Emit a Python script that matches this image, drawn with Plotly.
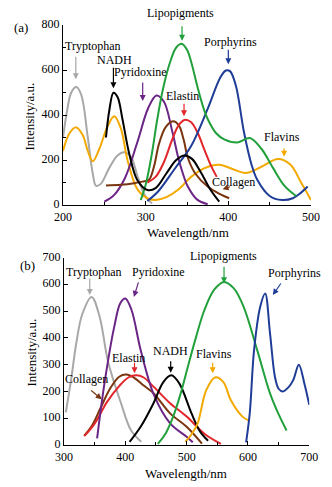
import plotly.graph_objects as go

# ---------------- Panel (a) data ----------------
trp_a_x = [200, 205, 210, 216, 222, 230, 236, 240, 246, 256, 266, 274, 282, 290, 298, 305, 308]
trp_a_y = [300, 420, 500, 524, 490, 300, 140, 85, 95, 165, 220, 234, 215, 130, 50, 15, 8]

fla_a_x = [200, 208, 216, 224, 230, 236, 244, 254, 262, 270, 278, 290, 302, 312, 325, 340, 355, 372, 389, 405, 421, 440, 460, 475, 488, 500]
fla_a_y = [240, 320, 345, 310, 240, 195, 250, 350, 394, 340, 200, 70, 30, 22, 35, 70, 125, 165, 179, 160, 142, 170, 205, 180, 100, 22]

nad_a_x = [252, 256, 261, 266, 272, 280, 290, 302, 312, 325, 337, 347, 356, 366, 378, 389]
nad_a_y = [300, 420, 499, 480, 380, 230, 110, 67, 75, 140, 200, 220, 205, 150, 70, 15]

pyr_a_x = [250, 262, 275, 290, 303, 313, 322, 332, 339, 345, 351, 362, 375]
pyr_a_y = [15, 45, 120, 280, 430, 487, 460, 330, 217, 140, 82, 25, 3]

col_a_x = [252, 270, 286, 296, 304, 310, 316, 324, 333, 340, 346, 351, 360, 375, 390, 401]
col_a_y = [87, 90, 97, 104, 112, 170, 270, 345, 372, 355, 290, 210, 140, 82, 48, 30]

ela_a_x = [302, 312, 322, 332, 340, 347, 355, 363, 371, 379, 386]
ela_a_y = [100, 125, 190, 290, 355, 378, 368, 320, 246, 175, 125]

lip_a_x = [294, 300, 307, 314, 321, 330, 337, 344, 350, 355, 363, 370, 375, 385, 395, 411, 426, 440, 454, 468, 482]
lip_a_y = [22, 90, 217, 380, 517, 640, 700, 716, 690, 637, 520, 430, 382, 320, 292, 278, 298, 250, 165, 85, 40]

por_a_x = [302, 315, 335, 355, 375, 390, 397, 402, 409, 419, 428, 435, 450, 465, 478, 488, 496]
por_a_y = [18, 60, 160, 262, 427, 565, 598, 595, 532, 322, 180, 112, 40, 22, 30, 55, 82]

# ---------------- Panel (b) data ----------------
trp_b_x = [303, 312, 320, 330, 345, 358, 372, 393, 409, 426]
trp_b_y = [122, 250, 380, 490, 553, 480, 310, 156, 56, 12]

pyr_b_x = [354, 366, 382, 392, 400, 410, 425, 447, 473, 500, 510]
pyr_b_y = [25, 230, 442, 530, 547, 505, 355, 185, 81, 31, 10]

col_b_x = [333, 345, 360, 375, 390, 402, 415, 430, 446, 473, 500, 525]
col_b_y = [35, 70, 140, 210, 255, 263, 250, 222, 193, 118, 68, 5]

ela_b_x = [333, 350, 370, 390, 405, 418, 430, 446, 473, 500, 530, 556]
ela_b_y = [33, 80, 160, 220, 252, 260, 252, 218, 156, 106, 40, 4]

nad_b_x = [407, 425, 446, 462, 475, 488, 508, 522, 535]
nad_b_y = [12, 68, 156, 235, 260, 230, 118, 50, 16]

lip_b_x = [453, 465, 478, 490, 502, 515, 529, 545, 561, 577, 593, 615, 636, 650, 663]
lip_b_y = [4, 40, 106, 190, 292, 400, 504, 580, 609, 585, 516, 355, 193, 115, 54]

fla_b_x = [498, 508, 518, 532, 547, 560, 572, 591, 602]
fla_b_y = [12, 40, 81, 205, 253, 235, 168, 106, 91]

por_b_x = [597, 603, 610, 620, 628, 636, 644, 650, 657, 666, 674, 683, 692, 700]
por_b_y = [10, 120, 355, 516, 566, 417, 255, 210, 200, 215, 243, 300, 230, 150]

# colours
C = {
    "Tryptophan": "#a8a8a8",
    "Flavins": "#f2a900",
    "NADH": "#000000",
    "Pyridoxine": "#6b2585",
    "Collagen": "#7a3510",
    "Elastin": "#e2262b",
    "Lipopigments": "#21a03b",
    "Porphyrins": "#1f3d96",
}

series_a = [
    ("Tryptophan", trp_a_x, trp_a_y),
    ("Flavins", fla_a_x, fla_a_y),
    ("Pyridoxine", pyr_a_x, pyr_a_y),
    ("Collagen", col_a_x, col_a_y),
    ("Elastin", ela_a_x, ela_a_y),
    ("Porphyrins", por_a_x, por_a_y),
    ("Lipopigments", lip_a_x, lip_a_y),
    ("NADH", nad_a_x, nad_a_y),
]
series_b = [
    ("Tryptophan", trp_b_x, trp_b_y),
    ("Collagen", col_b_x, col_b_y),
    ("Elastin", ela_b_x, ela_b_y),
    ("Pyridoxine", pyr_b_x, pyr_b_y),
    ("NADH", nad_b_x, nad_b_y),
    ("Lipopigments", lip_b_x, lip_b_y),
    ("Flavins", fla_b_x, fla_b_y),
    ("Porphyrins", por_b_x, por_b_y),
]

# label text position, arrow head, arrow tail offset (px)
labels_a = [
    ("Tryptophan", 236, 707, 215.5, 559, 0, -24),
    ("NADH", 262, 644, 261, 519, 0, -22),
    ("Pyridoxine", 294, 592, 296.4, 462, 0, -20),
    ("Lipopigments", 342, 852, 344, 730, 0, -16),
    ("Porphyrins", 403, 723, 400, 626, 0, -16),
    ("Elastin", 344, 483, 346.4, 395, 0, -14),
    ("Flavins", 465.5, 304, 467.5, 215, 0, -10),
    ("Collagen", 406, 103, 393, 70, 9, -3),
]
labels_b = [
    ("Tryptophan", 349, 645, 342, 560, 0, -18),
    ("Pyridoxine", 454, 645, 414, 553, 5, -16),
    ("Elastin", 406, 326, 415, 268, 0, -12),
    ("Collagen", 337, 245, 361.5, 171, -12, -10),
    ("NADH", 473, 351, 474, 270, 0, -13),
    ("Flavins", 545, 338, 542.5, 268, 0, -12),
    ("Lipopigments", 560, 707, 561, 604, 0, -18),
    ("Porphyrins", 676, 643, 640.6, 560, 9, -13),
]

FONT = "Liberation Serif, Times New Roman, serif"
XR_A, YR_A = (200, 500), (0, 800)
XR_B, YR_B = (300, 700), (0, 700)

fig = go.Figure()
for name, xs, ys in series_a:
    fig.add_trace(go.Scatter(x=xs, y=ys, mode="lines", line=dict(color=C[name], width=2, shape="spline", smoothing=1.0),
                             xaxis="x", yaxis="y", showlegend=False, name=name))
for name, xs, ys in series_b:
    fig.add_trace(go.Scatter(x=xs, y=ys, mode="lines", line=dict(color=C[name], width=2, shape="spline", smoothing=1.0),
                             xaxis="x2", yaxis="y2", showlegend=False, name=name))

anns = []
for (labels, xr, yr, XR, YR) in [(labels_a, "x", "y", XR_A, YR_A), (labels_b, "x2", "y2", XR_B, YR_B)]:
    for name, tx, ty, hx, hy, ax, ay in labels:
        anns.append(dict(x=(tx - XR[0]) / (XR[1] - XR[0]), y=(ty - YR[0]) / (YR[1] - YR[0]),
                         xref=xr + " domain", yref=yr + " domain", text=name, showarrow=False,
                         font=dict(family=FONT, size=12, color="black"), xanchor="center", yanchor="middle"))
        anns.append(dict(x=hx, y=hy, xref=xr, yref=yr, text="", showarrow=True, ax=ax, ay=ay,
                         arrowhead=2, arrowsize=1, arrowwidth=1.2, arrowcolor=C[name], standoff=0, startstandoff=0))

L, R, T, B, W, H = 63, 17, 25, 42, 332, 487
pw, ph = W - L - R, H - T - B
for txt, px, py, ang, sz in [("(a)", 20, 28, 0, 13), ("(b)", 27, 265, 0, 13),
                             ("Intensity/a.u.", 28, 117, -90, 13), ("Intensity/a.u.", 30, 353, -90, 13),
                             ("Wavelength/nm", 190, 232, 0, 13), ("Wavelength/nm", 188, 473, 0, 13)]:
    anns.append(dict(x=(px - L) / pw, y=(H - B - py) / ph, xref="paper", yref="paper", text=txt,
                     showarrow=False, textangle=ang, font=dict(family=FONT, size=sz, color="black"),
                     xanchor="center", yanchor="middle"))

axis_common = dict(showline=True, linecolor="black", linewidth=1, ticks="inside", ticklen=4, tickcolor="black",
                   showgrid=False, zeroline=False, tickfont=dict(family=FONT, size=12, color="black"))
xcommon = dict(ticklabelstandoff=1, **axis_common)
ycommon = dict(ticklabelshift=-1, **axis_common)

fig.update_layout(
    width=W, height=H, margin=dict(l=L, r=R, t=T, b=B),
    paper_bgcolor="white", plot_bgcolor="white",
    font=dict(family=FONT, size=12, color="black"),
    xaxis=dict(domain=[0, 1], range=list(XR_A), anchor="y", dtick=100, tick0=0,
               minor=dict(ticks="inside", dtick=50, ticklen=3, tickcolor="black"), **xcommon),
    yaxis=dict(domain=[(445 - 205) / 420, 1.0], range=list(YR_A), anchor="x", dtick=200,
               minor=dict(ticks="inside", dtick=100, ticklen=3, tickcolor="black"), **ycommon),
    xaxis2=dict(domain=[0.004, 0.993], range=list(XR_B), anchor="y2", dtick=100,
                minor=dict(ticks="inside", dtick=50, ticklen=3, tickcolor="black"), **xcommon),
    yaxis2=dict(domain=[0, (445 - 257.5) / 420], range=list(YR_B), anchor="x2", dtick=100, **ycommon),
    annotations=anns,
)

fig.write_html("out.html")
